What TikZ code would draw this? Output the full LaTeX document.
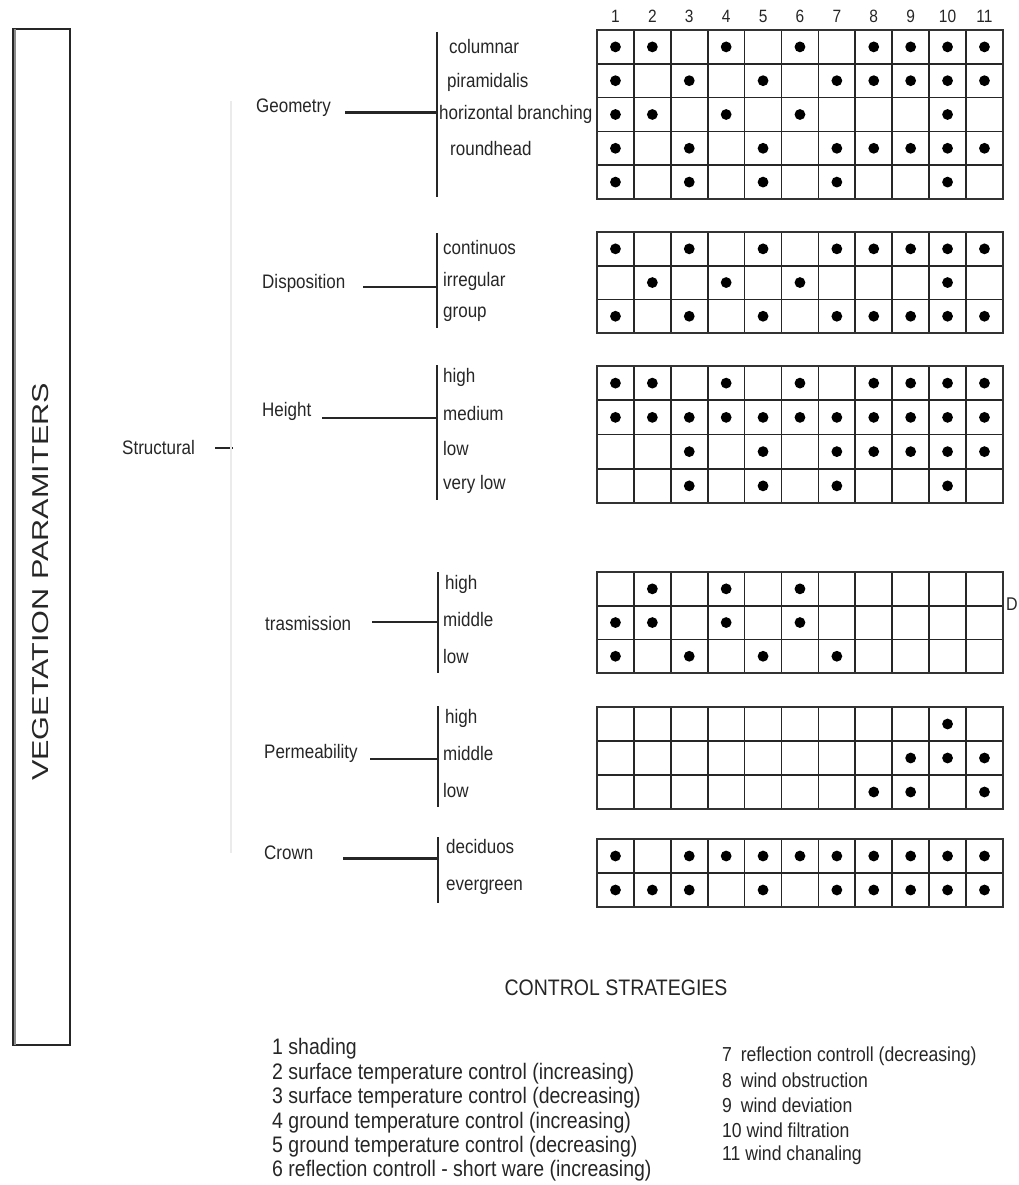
\documentclass[tikz,border=0pt]{standalone}
\usepackage{fontspec}
\setmainfont{Liberation Sans}
\usepackage{graphicx}
% letters are a little taller than wide in this figure
\newcommand{\tall}[1]{\scalebox{1}[1.15]{#1}}
\newcommand{\stretched}[1]{\scalebox{1.33}[1]{#1}}

\tikzset{
  lbl/.style={anchor=west, inner sep=0pt, text=black!85,
              font=\fontsize{17}{20}\selectfont},
  legendtxt/.style={anchor=west, inner sep=0pt, text=black!85,
              font=\fontsize{19.5}{22}\selectfont},
  legendtxtR/.style={legendtxt, font=\fontsize{17.6}{20}\selectfont},
  colnum/.style={inner sep=0pt, text=black!85,
              font=\fontsize{15.5}{18}\selectfont},
  bar/.style={line width=2.5pt, draw=black!85},
  link/.style={line width=2.4pt, draw=black!85},
  cellline/.style={line width=1.7pt, draw=black!85},
  frameline/.style={line width=2.4pt, draw=black!80},
  dot/.style={fill=black},
}

% #1 top edge, #2 number of rows, #3 row height, #4 filled cells row/column
\newcommand{\scoregrid}[4]{%
  \foreach \i in {1,...,10}
    \draw[cellline] ({597+\i*36.9},#1) -- ({597+\i*36.9},{#1+#2*#3});
  \foreach \j in {1,...,#2}
    \draw[cellline] (597,{#1+\j*#3}) -- (1003,{#1+\j*#3});
  \draw[frameline] (597,#1) rectangle (1003,{#1+#2*#3});
  \foreach \r/\c in {#4}
    \fill[dot] ({597+(\c-0.5)*36.9},{#1+(\r-0.5)*#3}) circle (5.4pt);
}

\begin{document}
\begin{tikzpicture}[x=1pt, y=-1pt]
\useasboundingbox (0,0) rectangle (1019,1185);

% ---- side box ----
\draw[line width=1.5pt, black!85] (13,29) rectangle (70,1045);
\draw[line width=1.2pt, black!45] (15,29) -- (15,1045);
\node[rotate=90, inner sep=0pt, text=black!85,
      font=\fontsize{23}{25}\selectfont] (vegpar) at (41,582)
      {\stretched{VEGETATION PARAMITERS}};

% ---- structural branch ----
\node[lbl] (structural) at (122,448) {\tall{Structural}};
\coordinate (stA) at (215,448);
\coordinate (stB) at (233,448);
\draw[line width=2pt, black!85] (stA) -- (stB);
\coordinate (spineT) at (231,101);
\coordinate (spineB) at (231,853);
\draw[line width=1.2pt, black!8] (spineT) -- (spineB);

% ---- column numbers ----
\foreach \c in {1,...,11}
  \node[colnum] (num\c) at ({597+(\c-0.5)*36.9},16) {\tall{\c}};

% ---- Geometry ----
\node[lbl] (geo) at (256,108) {\tall{Geometry}};
\coordinate (geoL) at (345,113);
\coordinate (geoJ) at (437,113);
\coordinate (geoT) at (437,32);
\coordinate (geoB) at (437,197);
\draw[link, line width=3pt] (geoL) -- (geoJ);
\draw[bar] (geoT) -- (geoB);
\node[lbl] (geo1) at (449,47) {\tall{columnar}};
\node[lbl] (geo2) at (447,82) {\tall{piramidalis}};
\node[lbl] (geo3) at (439,114) {\tall{horizontal branching}};
\node[lbl] (geo4) at (450,149) {\tall{roundhead}};
\scoregrid{30}{5}{33.8}{1/1,1/2,1/4,1/6,1/8,1/9,1/10,1/11,
  2/1,2/3,2/5,2/7,2/8,2/9,2/10,2/11,
  3/1,3/2,3/4,3/6,3/10,
  4/1,4/3,4/5,4/7,4/8,4/9,4/10,4/11,
  5/1,5/3,5/5,5/7,5/10}

% ---- Disposition ----
\node[lbl] (disp) at (262,283) {\tall{Disposition}};
\coordinate (dispL) at (363,287);
\coordinate (dispJ) at (437,287);
\coordinate (dispT) at (437,233);
\coordinate (dispB) at (437,328);
\draw[link, line width=2pt] (dispL) -- (dispJ);
\draw[bar] (dispT) -- (dispB);
\node[lbl] (disp1) at (443,248) {\tall{continuos}};
\node[lbl] (disp2) at (443,281) {\tall{irregular}};
\node[lbl] (disp3) at (443,314) {\tall{group}};
\scoregrid{232}{3}{33.7}{1/1,1/3,1/5,1/7,1/8,1/9,1/10,1/11,
  2/2,2/4,2/6,2/10,
  3/1,3/3,3/5,3/7,3/8,3/9,3/10,3/11}

% ---- Height ----
\node[lbl] (hgt) at (262,411) {\tall{Height}};
\coordinate (hgtL) at (322,418);
\coordinate (hgtJ) at (437,418);
\coordinate (hgtT) at (437,365);
\coordinate (hgtB) at (437,500);
\draw[link] (hgtL) -- (hgtJ);
\draw[bar] (hgtT) -- (hgtB);
\node[lbl] (hgt1) at (443,377) {\tall{high}};
\node[lbl] (hgt2) at (443,414) {\tall{medium}};
\node[lbl] (hgt3) at (443,449) {\tall{low}};
\node[lbl] (hgt4) at (443,484) {\tall{very low}};
\scoregrid{366}{4}{34.25}{1/1,1/2,1/4,1/6,1/8,1/9,1/10,1/11,
  2/1,2/2,2/3,2/4,2/5,2/6,2/7,2/8,2/9,2/10,2/11,
  3/3,3/5,3/7,3/8,3/9,3/10,3/11,
  4/3,4/5,4/7,4/10}

% ---- Transmission ----
\node[lbl] (trm) at (265,624) {\tall{trasmission}};
\coordinate (trmL) at (372,622);
\coordinate (trmJ) at (438,622);
\coordinate (trmT) at (438,572);
\coordinate (trmB) at (438,673);
\draw[link] (trmL) -- (trmJ);
\draw[bar] (trmT) -- (trmB);
\node[lbl] (trm1) at (445,584) {\tall{high}};
\node[lbl] (trm2) at (443,620) {\tall{middle}};
\node[lbl] (trm3) at (443,657) {\tall{low}};
\scoregrid{572}{3}{33.7}{1/2,1/4,1/6,
  2/1,2/2,2/4,2/6,
  3/1,3/3,3/5,3/7}
\node[lbl, font=\fontsize{16}{18}\selectfont] (sideD) at (1006,604) {\tall{D}};

% ---- Permeability ----
\node[lbl] (perm) at (264,753) {\tall{Permeability}};
\coordinate (permL) at (370,759);
\coordinate (permJ) at (438,759);
\coordinate (permT) at (438,706);
\coordinate (permB) at (438,807);
\draw[link] (permL) -- (permJ);
\draw[bar] (permT) -- (permB);
\node[lbl] (perm1) at (445,718) {\tall{high}};
\node[lbl] (perm2) at (443,754) {\tall{middle}};
\node[lbl] (perm3) at (443,791) {\tall{low}};
\scoregrid{707}{3}{34}{1/10,
  2/9,2/10,2/11,
  3/8,3/9,3/11}

% ---- Crown ----
\node[lbl] (crown) at (264,853) {\tall{Crown}};
\coordinate (crownL) at (343,858);
\coordinate (crownJ) at (438,858);
\coordinate (crownT) at (438,837);
\coordinate (crownB) at (438,903);
\draw[link, line width=3pt] (crownL) -- (crownJ);
\draw[bar] (crownT) -- (crownB);
\node[lbl] (crown1) at (446,847) {\tall{deciduos}};
\node[lbl] (crown2) at (446,887) {\tall{evergreen}};
\scoregrid{839}{2}{34}{1/1,1/3,1/4,1/5,1/6,1/7,1/8,1/9,1/10,1/11,
  2/1,2/2,2/3,2/5,2/7,2/8,2/9,2/10,2/11}

% ---- legend ----
\node[inner sep=0pt, text=black!85, font=\fontsize{19.5}{22}\selectfont]
  (legtitle) at (616,988) {\tall{CONTROL STRATEGIES}};
\node[legendtxt] (leg1) at (272,1049) {\tall{1 shading}};
\node[legendtxt] (leg2) at (272,1073.4) {\tall{2 surface temperature control (increasing)}};
\node[legendtxt] (leg3) at (272,1097.8) {\tall{3 surface temperature control (decreasing)}};
\node[legendtxt] (leg4) at (272,1122.2) {\tall{4 ground temperature control (increasing)}};
\node[legendtxt] (leg5) at (272,1146.6) {\tall{5 ground temperature control (decreasing)}};
\node[legendtxt] (leg6) at (272,1171) {\tall{6 reflection controll - short ware (increasing)}};
\node[legendtxtR] (leg7) at (722,1056) {\tall{7\enspace reflection controll (decreasing)}};
\node[legendtxtR] (leg8) at (722,1080.7) {\tall{8\enspace wind obstruction}};
\node[legendtxtR] (leg9) at (722,1105.4) {\tall{9\enspace wind deviation}};
\node[legendtxtR] (leg10) at (722,1130.1) {\tall{10 wind filtration}};
\node[legendtxtR] (leg11) at (722,1154.8) {\tall{11 wind chanaling}};
\end{tikzpicture}
\end{document}
